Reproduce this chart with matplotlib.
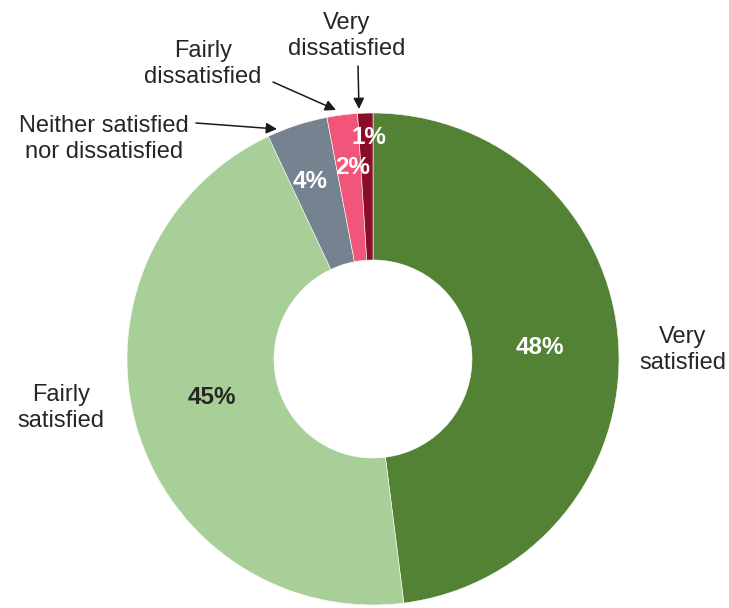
import matplotlib
matplotlib.use("Agg")
import matplotlib.pyplot as plt

plt.rcParams['font.family'] = ['Liberation Sans', 'DejaVu Sans']

categories = ["Very\nsatisfied", "Fairly\nsatisfied", "Neither satisfied\nnor dissatisfied",
              "Fairly\ndissatisfied", "Very\ndissatisfied"]
values = [48, 45, 4, 2, 1]
colors = ["#548235", "#A9CF98", "#75828F", "#F2557A", "#8A0C28"]
pct_colors = ["white", "#262626", "white", "white", "white"]

W, H = 729, 608
fig = plt.figure(figsize=(W / 100, H / 100), dpi=100)
ax = fig.add_axes([0, 0, 1, 1])


def P(x, y):
    # pixel position (origin top-left) -> data coordinates
    return (x, H - y)


cx, cy = P(373, 359)
R = 246
ax.pie(values, colors=colors, startangle=90, counterclock=False,
       center=(cx, cy), radius=R, frame=True,
       wedgeprops=dict(width=R - 99, edgecolor='white', linewidth=0.4))
ax.set_xlim(0, W)
ax.set_ylim(0, H)
ax.set_aspect('equal')
ax.axis('off')

# percentage labels inside the ring
pct_pos = [(540, 348), (212, 398), (310, 182), (353, 168), (369, 137)]
for v, (x, y), c in zip(values, pct_pos, pct_colors):
    ax.text(*P(x, y), f"{v}%", ha='center', va='center', fontsize=17.5,
            fontweight='bold', color=c)

txt = "#262626"
ls = 1.25
# category labels placed beside the ring
ax.text(*P(683, 350), categories[0], ha='center', va='center', fontsize=17,
        color=txt, linespacing=ls)
ax.text(*P(61, 408), categories[1], ha='center', va='center', fontsize=17,
        color=txt, linespacing=ls)

# category labels with leader arrows
arrow = dict(arrowstyle='-|>', color='#1a1a1a', lw=1.1, mutation_scale=16,
             shrinkA=0, shrinkB=0)
ax.text(*P(104, 139), categories[2], ha='center', va='center', fontsize=17,
        color=txt, linespacing=ls)
ax.annotate("", xy=P(277, 129), xytext=P(196, 123), arrowprops=arrow)

ax.text(*P(203, 64), categories[3], ha='center', va='center', fontsize=17,
        color=txt, linespacing=ls)
ax.annotate("", xy=P(336, 110), xytext=P(273, 82), arrowprops=arrow)

ax.text(*P(347, 36), categories[4], ha='center', va='center', fontsize=17,
        color=txt, linespacing=ls)
ax.annotate("", xy=P(359, 109), xytext=P(358, 66), arrowprops=arrow)

fig.savefig("out.png", dpi=100, facecolor='white')
